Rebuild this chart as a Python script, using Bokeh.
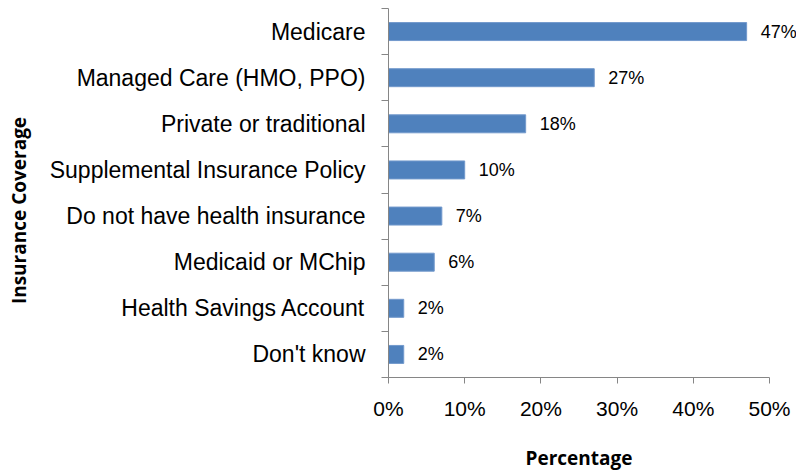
import math
from bokeh.plotting import figure
from bokeh.models import Range1d, FixedTicker, PrintfTickFormatter, Label, ColumnDataSource
from bokeh.core.properties import value
from bokeh.embed import file_html
from bokeh.resources import INLINE

categories = ["Medicare", "Managed Care (HMO, PPO)", "Private or traditional",
              "Supplemental Insurance Policy", "Do not have health insurance",
              "Medicaid or MChip", "Health Savings Account", "Don't know"]
percent = [47, 27, 18, 10, 7, 6, 2, 2]
x_ticks = [0, 10, 20, 30, 40, 50]

n = len(categories)
ypos = [n - i - 0.5 for i in range(n)]
src = ColumnDataSource(dict(cat=categories, y=ypos, v=percent,
                            lab=[f"{v}%" for v in percent]))

W, H = 796, 470
ax_left, ax_right = 388, 769      # pixel span of 0..50
ax_top, ax_bottom = 8, 377        # pixel span of n..0
ppx = (ax_right - ax_left) / 50.0
ppy = (ax_bottom - ax_top) / n

p = figure(width=W, height=H, output_backend="svg", toolbar_location=None,
           x_range=Range1d(-ax_left / ppx, (W - ax_left) / ppx),
           y_range=Range1d(-(H - ax_bottom) / ppy, n + ax_top / ppy),
           min_border=0, min_border_left=0, min_border_right=0,
           min_border_top=0, min_border_bottom=0,
           frame_width=W, frame_height=H)
p.outline_line_color = None
p.grid.grid_line_color = None
p.background_fill_color = "white"
p.border_fill_color = "white"

p.hbar(y="y", left=0, right="v", height=0.39, source=src,
       fill_color="#4F81BD", line_color="#7299CC", line_width=1)
p.text(x="v", y="y", text="lab", source=src, x_offset=14,
       text_baseline="middle", text_align="left",
       text_font=value("Liberation Sans"), text_font_size="18px", text_color="black")

ax = p.xaxis[0]
ax.fixed_location = 0
ax.bounds = (0, 50)
ax.ticker = FixedTicker(ticks=x_ticks)
ax.formatter = PrintfTickFormatter(format="%d%%")
ax.axis_line_color = "#868686"
ax.major_tick_line_color = "#868686"
ax.major_tick_out = 6
ax.major_tick_in = 0
ax.minor_tick_line_color = None
ax.major_label_text_font = "Liberation Sans"
ax.major_label_text_font_size = "21px"
ax.major_label_text_color = "black"
ax.major_label_standoff = 13

ay = p.yaxis[0]
ay.fixed_location = 0
ay.bounds = (0, n)
ay.ticker = FixedTicker(ticks=ypos, minor_ticks=list(range(n + 1)))
ay.major_label_overrides = {y: c for y, c in zip(ypos, categories)}
ay.axis_line_color = "#868686"
ay.major_tick_line_color = None
ay.major_tick_out = 0
ay.major_tick_in = 0
ay.minor_tick_line_color = "#868686"
ay.minor_tick_out = 7
ay.minor_tick_in = 0
ay.major_label_text_font = "Liberation Sans"
ay.major_label_text_font_size = "23px"
ay.major_label_text_color = "black"
ay.major_label_standoff = 16

title_y = Label(x=(18 - ax_left) / ppx, y=n - (210 - ax_top) / ppy,
                text="Insurance Coverage", angle=math.pi / 2,
                text_align="center", text_baseline="middle",
                text_font="Open Sans", text_font_style="bold",
                text_font_size="19px", text_color="black")
p.add_layout(title_y)

title_x = Label(x=25, y=-(457 - ax_bottom) / ppy, text="Percentage",
                text_align="center", text_baseline="middle",
                text_font="Open Sans", text_font_style="bold",
                text_font_size="19px", text_color="black")
p.add_layout(title_x)

open("out.html", "w").write(file_html(p, INLINE))
